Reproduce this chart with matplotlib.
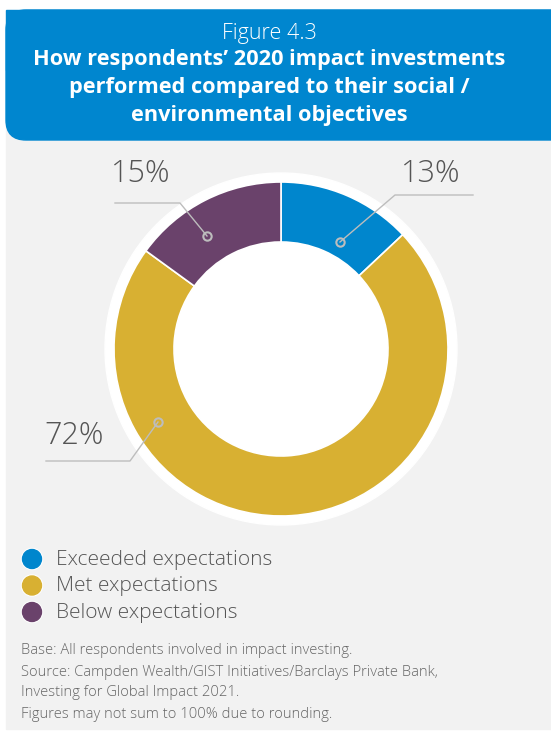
import matplotlib.pyplot as plt
from matplotlib.patches import Circle, Rectangle, FancyBboxPatch

W, H = 551, 731

categories = ['Exceeded expectations', 'Met expectations', 'Below expectations']
shares = [13, 72, 15]
colors = ['#0086CD', '#D8B032', '#6A426B']
pct_labels = ['13%', '72%', '15%']

notes = [
    'Base: All respondents involved in impact investing.',
    'Source: Campden Wealth/GIST Initiatives/Barclays Private Bank,',
    'Investing for Global Impact 2021.',
    'Figures may not sum to 100% due to rounding.',
]

plt.rcParams['font.family'] = ['Open Sans', 'DejaVu Sans']


def Y(y):
    # pixel rows run top-down, axes run bottom-up
    return H - y


fig = plt.figure(figsize=(W / 100, H / 100), dpi=100)
ax = fig.add_axes([0, 0, 1, 1])

# background panel
ax.add_patch(Rectangle((6, Y(729)), W, 729 - 120, color='#F2F2F2', zorder=0))

# header
ax.add_patch(FancyBboxPatch((26, Y(140) + 20), W, 130 - 40,
                            boxstyle='round,pad=20', color='#0086CF', zorder=1))
ax.add_patch(Rectangle((6, Y(70)), W, 60, color='#0086CF', zorder=1))
ax.text(269, Y(33), 'Figure 4.3', color='white', fontsize=15.5, fontweight='light',
        ha='center', va='center', zorder=2)
title = ['How respondents\u2019 2020 impact investments',
         'performed compared to their social /',
         'environmental objectives']
for i, line in enumerate(title):
    ax.text(269, Y(59 + i * 28), line, color='white', fontsize=15.7, fontweight='bold',
            ha='center', va='center', zorder=2)

# donut
cx, cy = 281, Y(349)
ax.add_patch(Circle((cx, cy), 176, color='white', zorder=2))
wedges, _ = ax.pie(shares, colors=colors, startangle=90, counterclock=False,
                   radius=167, center=(cx, cy), frame=True,
                   wedgeprops=dict(width=60, edgecolor='white', linewidth=1.2))
for w in wedges:
    w.set_zorder(3)

# callouts: label text, label position, leader line points (last one gets the ring dot)
callouts = [
    (pct_labels[0], 431, 174, [(473, 195), (395, 195), (340, 242)]),
    (pct_labels[1], 74, 436, [(46, 461), (130, 461), (158, 422)]),
    (pct_labels[2], 141, 174, [(115, 203), (180, 203), (207, 236)]),
]
for txt, tx, ty, pts in callouts:
    ax.text(tx, Y(ty), txt, color='#555555', fontsize=22, fontweight='light',
            ha='center', va='center', zorder=5)
    xs = [p[0] for p in pts]
    ys = [Y(p[1]) for p in pts]
    ax.plot(xs, ys, color='#BDBDBD', lw=1, zorder=4)
    ax.plot(xs[-1], ys[-1], 'o', ms=6, mfc='none', mec='#BDBDBD', mew=1.5, zorder=5)

# legend
for i, (cat, col) in enumerate(zip(categories, colors)):
    y = Y(559 + i * 26.5)
    ax.add_patch(Circle((32, y), 10.5, color='white', zorder=3))
    ax.add_patch(Circle((32, y), 9.5, color=col, zorder=4))
    ax.text(56, y - 1, cat, color='#555555', fontsize=15, fontweight='light',
            ha='left', va='center', zorder=4)

for y, line in zip([650, 673, 692, 714], notes):
    ax.text(21, Y(y), line, color='#666666', fontsize=10.6, fontweight='light',
            ha='left', va='center')

ax.set_xlim(0, W)
ax.set_ylim(0, H)
ax.set_aspect('auto')
ax.axis('off')

fig.savefig('out.png', dpi=100, facecolor='white')
